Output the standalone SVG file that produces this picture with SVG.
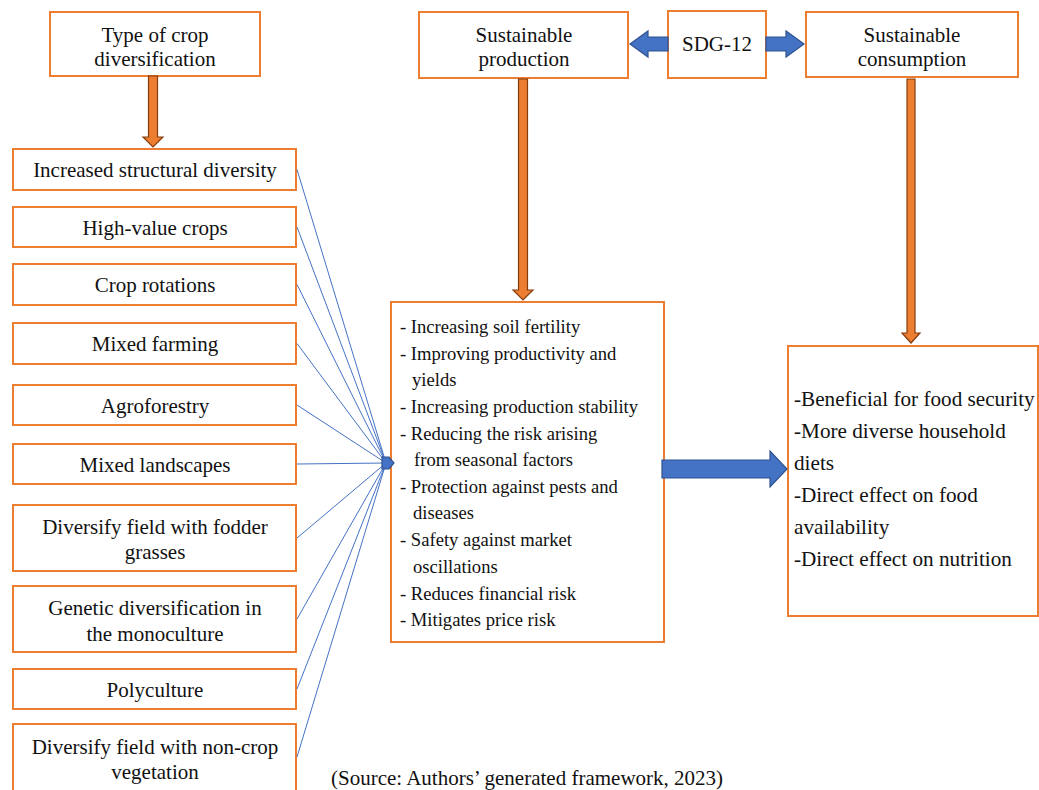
<svg xmlns="http://www.w3.org/2000/svg" width="1039" height="790" viewBox="0 0 1039 790">
<style>
.box{fill:#fff;stroke:#ED7D31;stroke-width:2}
.t{font-family:"Liberation Serif","Times New Roman",serif;font-size:21px;fill:#111;text-anchor:middle}
.tl{font-family:"Liberation Serif","Times New Roman",serif;font-size:18.6px;fill:#111}
.tr{font-family:"Liberation Serif","Times New Roman",serif;font-size:21.2px;fill:#111}
.oa{fill:#ED7D31;stroke:#843C0C;stroke-width:1.2}
.ba{fill:#4472C4;stroke:#2F528F;stroke-width:1.2}
.ln{stroke:#4472C4;stroke-width:1;fill:none}
</style>
<rect width="1039" height="790" fill="#fff"/>
<g id="n-type"><rect class="box" x="50" y="12" width="210" height="64"/><text class="t" x="155" y="42">Type of crop</text><text class="t" x="155" y="66">diversification</text></g>
<g id="n-prod"><rect class="box" x="419" y="12" width="209" height="66"/><text class="t" x="524" y="42">Sustainable</text><text class="t" x="524" y="66">production</text></g>
<g id="n-sdg"><rect class="box" x="668" y="11" width="98" height="67"/><text class="t" x="717" y="51">SDG-12</text></g>
<g id="n-cons"><rect class="box" x="806" y="12" width="212" height="65"/><text class="t" x="912" y="42">Sustainable</text><text class="t" x="912" y="66">consumption</text></g>
<g id="n1"><rect class="box" x="13" y="149" width="283" height="41"/><text class="t" x="155" y="177">Increased structural diversity</text></g>
<g id="n2"><rect class="box" x="13" y="207" width="283" height="40"/><text class="t" x="155" y="235">High-value crops</text></g>
<g id="n3"><rect class="box" x="13" y="264" width="283" height="41"/><text class="t" x="155" y="292">Crop rotations</text></g>
<g id="n4"><rect class="box" x="13" y="323" width="283" height="41"/><text class="t" x="155" y="351">Mixed farming</text></g>
<g id="n5"><rect class="box" x="13" y="385" width="283" height="40"/><text class="t" x="155" y="413">Agroforestry</text></g>
<g id="n6"><rect class="box" x="13" y="444" width="283" height="40"/><text class="t" x="155" y="472">Mixed landscapes</text></g>
<g id="n7"><rect class="box" x="13" y="505" width="283" height="66"/><text class="t" x="155" y="534">Diversify field with fodder</text><text class="t" x="155" y="559">grasses</text></g>
<g id="n8"><rect class="box" x="13" y="586" width="283" height="66"/><text class="t" x="155" y="615">Genetic diversification in</text><text class="t" x="155" y="641">the monoculture</text></g>
<g id="n9"><rect class="box" x="13" y="669" width="283" height="40"/><text class="t" x="155" y="697">Polyculture</text></g>
<g id="n10"><rect class="box" x="13" y="724" width="283" height="68"/><text class="t" x="155" y="754">Diversify field with non-crop</text><text class="t" x="155" y="779">vegetation</text></g>
<g id="n-main"><rect class="box" x="391" y="302" width="273" height="340"/>
<text class="tl" x="400" y="333">- Increasing soil fertility</text>
<text class="tl" x="400" y="360">- Improving productivity and</text>
<text class="tl" x="412" y="386">yields</text>
<text class="tl" x="400" y="413">- Increasing production stability</text>
<text class="tl" x="400" y="440">- Reducing the risk arising</text>
<text class="tl" x="414" y="466">from seasonal factors</text>
<text class="tl" x="400" y="493">- Protection against pests and</text>
<text class="tl" x="413" y="519">diseases</text>
<text class="tl" x="400" y="546">- Safety against market</text>
<text class="tl" x="413" y="573">oscillations</text>
<text class="tl" x="400" y="600">- Reduces financial risk</text>
<text class="tl" x="400" y="626">- Mitigates price risk</text>
</g>
<g id="n-right"><rect class="box" x="788" y="346" width="250" height="270"/>
<text class="tr" x="794" y="406">-Beneficial for food security</text>
<text class="tr" x="794" y="438">-More diverse household</text>
<text class="tr" x="794" y="470">diets</text>
<text class="tr" x="794" y="502">-Direct effect on food</text>
<text class="tr" x="794" y="534">availability</text>
<text class="tr" x="794" y="566">-Direct effect on nutrition</text>
</g>
<g id="connectors">
<polygon class="oa" points="148.5,76 157.5,76 157.5,137 163,137 153,147 143,137 148.5,137"/>
<polygon class="oa" points="518.5,79 527.5,79 527.5,290 533,290 523,300 513,290 518.5,290"/>
<polygon class="oa" points="907,79 915,79 915,333 920,333 911,343 902,333 907,333"/>
<polygon class="ba" points="668,37 648,37 648,31 630,44 648,57 648,51 668,51"/>
<polygon class="ba" points="766,37 786,37 786,31 804,44 786,57 786,51 766,51"/>
<polygon class="ba" points="662,460 770,460 770,451 787,469 770,487 770,478 662,478"/>
<g class="ln">
<line x1="297" y1="169.5" x2="386" y2="463"/>
<line x1="297" y1="227" x2="386" y2="463"/>
<line x1="297" y1="284.5" x2="386" y2="463"/>
<line x1="297" y1="343.5" x2="386" y2="463"/>
<line x1="297" y1="405" x2="386" y2="463"/>
<line x1="297" y1="464" x2="386" y2="463"/>
<line x1="297" y1="538" x2="386" y2="463"/>
<line x1="297" y1="619" x2="386" y2="463"/>
<line x1="297" y1="689" x2="386" y2="463"/>
<line x1="297" y1="757" x2="386" y2="463"/>
</g>
<polygon class="ba" points="382,457 389,457 394,463 389,469 382,469"/>
</g>
<text class="t" x="527" y="785">(Source: Authors’ generated framework, 2023)</text>
</svg>
